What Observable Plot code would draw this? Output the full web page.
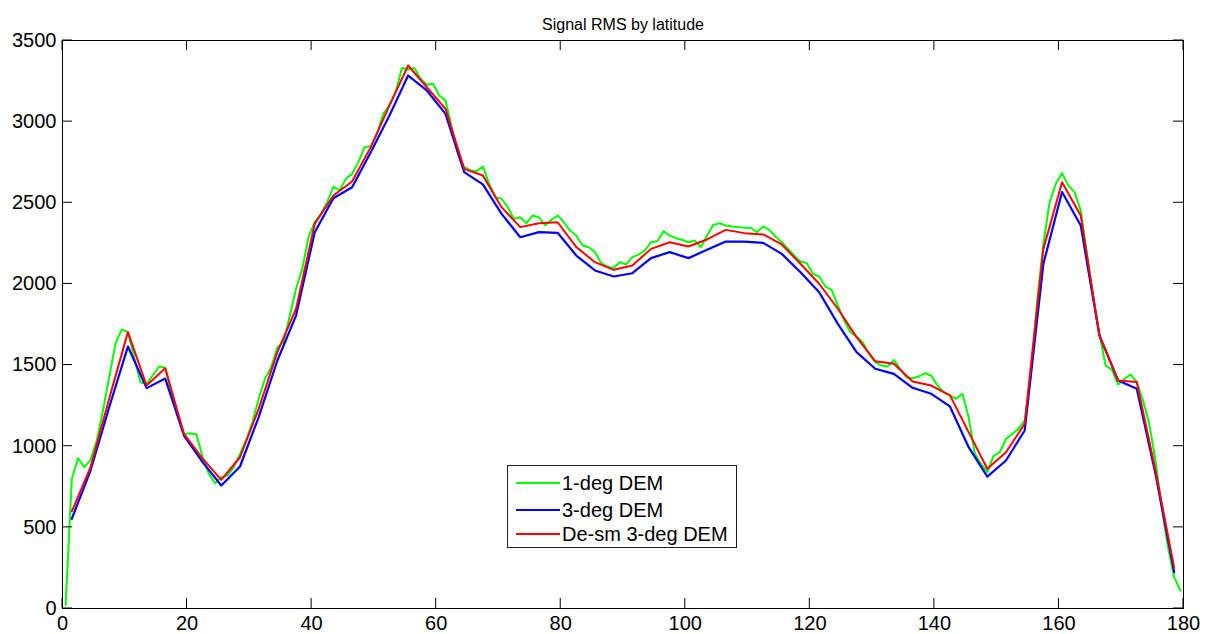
<!DOCTYPE html>
<html><head><meta charset="utf-8">
<script src="https://cdn.jsdelivr.net/npm/d3@7"></script>
<script src="https://cdn.jsdelivr.net/npm/@observablehq/plot@0.6"></script>
<style>
body{margin:0;background:#fff;}
#wrap{position:relative;width:1212px;height:634px;font-family:"Liberation Sans",Arial,Helvetica,sans-serif;}
#legend{position:absolute;left:507px;top:465px;width:230px;height:83px;border:1px solid #222;background:#fff;box-sizing:border-box;font-size:20px;color:#000;}
.row{position:absolute;left:8px;height:24px;display:flex;align-items:center;}
.row svg{margin-right:2px;}
</style></head><body><div id="wrap"></div>
<script>
const title = "Signal RMS by latitude";
const seriesNames = ["1-deg DEM", "3-deg DEM", "De-sm 3-deg DEM"];
const seriesColors = ["#00ff00", "#0000ff", "#ff0000"];
const xTicks = [0, 20, 40, 60, 80, 100, 120, 140, 160, 180];
const yTicks = [0, 500, 1000, 1500, 2000, 2500, 3000, 3500];

// 1-degree bins (latitude bin centres 0.5 ... 179.5)
const lat1 = d3.range(0.5, 180, 1);
const rms1 = [
  20, 800, 926, 871, 916, 1035, 1220, 1425, 1631, 1719,
  1703, 1549, 1395, 1384, 1436, 1491, 1483, 1323, 1200, 1076,
  1080, 1072, 933, 830, 772, 809, 820, 871, 953, 1040,
  1148, 1292, 1415, 1487, 1610, 1641, 1805, 1970, 2093, 2288,
  2381, 2432, 2504, 2600, 2576, 2648, 2678, 2750, 2843, 2849,
  2925, 3048, 3100, 3182, 3330, 3321, 3330, 3264, 3227, 3233,
  3161, 3130, 2966, 2802, 2720, 2699, 2695, 2724, 2617, 2535,
  2524, 2473, 2401, 2411, 2374, 2422, 2411, 2360, 2395, 2422,
  2380, 2329, 2298, 2237, 2226, 2196, 2128, 2107, 2099, 2134,
  2120, 2165, 2181, 2206, 2257, 2263, 2325, 2298, 2282, 2272,
  2257, 2268, 2226, 2298, 2364, 2374, 2360, 2354, 2350, 2346,
  2346, 2319, 2354, 2333, 2292, 2257, 2216, 2175, 2138, 2128,
  2062, 2046, 1984, 1964, 1867, 1775, 1703, 1676, 1641, 1569,
  1518, 1497, 1491, 1532, 1477, 1425, 1419, 1430, 1450, 1436,
  1374, 1333, 1313, 1292, 1323, 1179, 953, 891, 840, 940,
  963, 1045, 1076, 1107, 1158, 1446, 1898, 2247, 2504, 2617,
  2683, 2607, 2566, 2452, 2185, 1918, 1693, 1497, 1471, 1380,
  1415, 1442, 1395, 1282, 1138, 912, 624, 378, 193, 111
];

// 3-degree bins (latitude bin centres 1.5 ... 178.5)
const lat3 = d3.range(1.5, 179, 3);
const rms3 = [
  553, 850, 1240, 1614, 1358, 1417, 1066, 902, 758, 875,
  1179, 1528, 1805, 2319, 2528, 2596, 2812, 3038, 3284, 3192,
  3048, 2689, 2613, 2432, 2288, 2319, 2315, 2175, 2083, 2046,
  2066, 2159, 2196, 2159, 2210, 2261, 2261, 2253, 2185, 2072,
  1949, 1754, 1580, 1477, 1446, 1360, 1323, 1245, 994, 813,
  912, 1097, 2124, 2566, 2360, 1682, 1405, 1354, 830, 224
];
const rmsDesm = [
  598, 871, 1294, 1703, 1374, 1481, 1076, 924, 793, 932,
  1230, 1580, 1847, 2370, 2545, 2631, 2843, 3100, 3346, 3212,
  3079, 2709, 2668, 2473, 2350, 2374, 2380, 2227, 2134, 2087,
  2114, 2216, 2257, 2231, 2274, 2333, 2313, 2305, 2243, 2124,
  2001, 1847, 1672, 1524, 1508, 1399, 1374, 1313, 1087, 861,
  963, 1138, 2216, 2627, 2422, 1682, 1405, 1395, 850, 251
];

const d1 = lat1.map((x, i) => ({x, y: rms1[i]}));
const d3deg = lat3.map((x, i) => ({x, y: rms3[i]}));
const dDesm = lat3.map((x, i) => ({x, y: rmsDesm[i]}));

const font = '"Liberation Sans", Arial, Helvetica, sans-serif';
const W = 1212, H = 634, mL = 62, mR = 29, mT = 40, mB = 26;
const xDomain = [0, 180], yDomain = [0, 3500];
const tickLen = 10;

// inward tick marks: each tick value becomes a short segment anchored on a frame side
const xTickSegs = xTicks.flatMap(v => [{v, side: "bottom"}, {v, side: "top"}]);
const yTickSegs = yTicks.flatMap(v => [{v, side: "left"}, {v, side: "right"}]);

const chart = Plot.plot({
  width: W,
  height: H,
  marginLeft: mL,
  marginRight: mR,
  marginTop: mT,
  marginBottom: mB,
  style: {fontFamily: font, fontSize: "20px", color: "#000", background: "#fff"},
  x: {domain: xDomain, label: null},
  y: {domain: yDomain, label: null},
  marks: [
    Plot.line(d1, {x: "x", y: "y", stroke: seriesColors[0], strokeWidth: 2}),
    Plot.line(d3deg, {x: "x", y: "y", stroke: seriesColors[1], strokeWidth: 2.2}),
    Plot.line(dDesm, {x: "x", y: "y", stroke: seriesColors[2], strokeWidth: 2}),
    Plot.frame({stroke: "#000", strokeWidth: 1}),
    Plot.axisX(xTicks, {anchor: "bottom", tickSize: 0, tickPadding: 7, fontSize: 20, tickFormat: d => String(d), label: null}),
    Plot.axisY(yTicks, {anchor: "left", tickSize: 0, tickPadding: 6, fontSize: 20, tickFormat: d => String(d), label: null}),
    Plot.text([title], {frameAnchor: "top", dy: -22, fontSize: 16, fill: "#000"})
  ]
});

// draw inward ticks with d3 using the plot's own scales
const sx = chart.scale("x"), sy = chart.scale("y");
const svg = d3.select(chart);
const g = svg.append("g").attr("stroke", "#000").attr("stroke-width", 1).attr("fill", "none");
const X = v => sx.apply(v), Y = v => sy.apply(v);
const yBot = Y(yDomain[0]), yTop = Y(yDomain[1]), xLeft = X(xDomain[0]), xRight = X(xDomain[1]);
g.selectAll("line.xt").data(xTickSegs).join("line").attr("class", "xt")
  .attr("x1", d => X(d.v)).attr("x2", d => X(d.v))
  .attr("y1", d => d.side === "bottom" ? yBot : yTop)
  .attr("y2", d => d.side === "bottom" ? yBot - tickLen : yTop + tickLen);
g.selectAll("line.yt").data(yTickSegs).join("line").attr("class", "yt")
  .attr("y1", d => Y(d.v)).attr("y2", d => Y(d.v))
  .attr("x1", d => d.side === "left" ? xLeft : xRight)
  .attr("x2", d => d.side === "left" ? xLeft + tickLen : xRight - tickLen);

const wrap = document.getElementById("wrap");
wrap.appendChild(chart);

const legend = document.createElement("div");
legend.id = "legend";
const rowTops = [5, 32, 56];
seriesNames.forEach((name, i) => {
  const row = document.createElement("div");
  row.className = "row";
  row.style.top = rowTops[i] + "px";
  row.innerHTML = `<svg width="44" height="4"><line x1="0" y1="2" x2="44" y2="2" stroke="${seriesColors[i]}" stroke-width="2"/></svg><span>${name}</span>`;
  legend.appendChild(row);
});
wrap.appendChild(legend);
</script>
</body></html>
